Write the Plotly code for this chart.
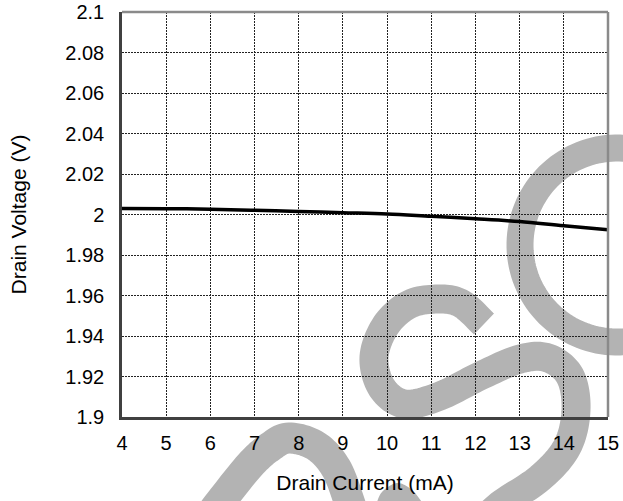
import plotly.graph_objects as go
import numpy as np

# ---- data ----
drain_current_mA = [4, 5, 6, 7, 8, 9, 10, 11, 12, 13, 14, 15]
drain_voltage_V = [2.0030, 2.0029, 2.0026, 2.0021, 2.0015, 2.0009, 2.0003,
                   1.9991, 1.9979, 1.9965, 1.9944, 1.9925]

x_ticks = [4, 5, 6, 7, 8, 9, 10, 11, 12, 13, 14, 15]
x_ticktext = ["4", "5", "6", "7", "8", "9", "10", "11", "12", "13", "14", "15"]
y_ticks = [1.9, 1.92, 1.94, 1.96, 1.98, 2.0, 2.02, 2.04, 2.06, 2.08, 2.1]
y_ticktext = ["1.9", "1.92", "1.94", "1.96", "1.98", "2", "2.02", "2.04", "2.06", "2.08", "2.1"]

x_title = "Drain Current (mA)"
y_title = "Drain Voltage (V)"

# ---- layout geometry (pixels) ----
W, H = 623, 501
L, R, T, B = 122, 15, 12, 84
PW, PH = W - L - R, H - T - B

def to_paper(px, py):
    return (px - L) / PW, (H - B - py) / PH

def catmull(points, n=12):
    pts = np.array(points, dtype=float)
    out = []
    for i in range(len(pts) - 1):
        p0 = pts[i - 1] if i > 0 else pts[i]
        p1, p2 = pts[i], pts[i + 1]
        p3 = pts[i + 2] if i + 2 < len(pts) else pts[i + 1]
        for t in np.linspace(0, 1, n, endpoint=False):
            t2, t3 = t * t, t * t * t
            q = 0.5 * ((2 * p1) + (-p0 + p2) * t + (2 * p0 - 5 * p1 + 4 * p2 - p3) * t2
                       + (-p0 + 3 * p1 - 3 * p2 + p3) * t3)
            out.append(q)
    out.append(pts[-1])
    return out

def path_from(pts, close=False):
    s = ""
    for i, (px, py) in enumerate(pts):
        x, y = to_paper(px, py)
        s += ("M" if i == 0 else "L") + f"{x:.5f},{y:.5f} "
    if close:
        s += "Z"
    return s

wm_color = "#b3b3b3"
shapes = []

# big C arc (upper right)
cx, cy, rr = 617, 245, 97
arc = [(cx + rr * np.cos(np.radians(a)), cy + rr * np.sin(np.radians(a)))
       for a in np.linspace(-78, -282, 80)]
shapes.append(dict(type="path", xref="paper", yref="paper", layer="below",
                   path=path_from(arc), line=dict(color=wm_color, width=27)))

# S curve (middle)
s_pts = [(484, 324), (462, 304), (440, 299), (410, 304), (386, 325), (374, 357),
         (382, 388), (405, 404), (440, 396), (480, 376), (520, 359), (548, 358),
         (570, 376), (576, 410), (567, 447), (540, 478), (500, 505), (480, 525)]
shapes.append(dict(type="path", xref="paper", yref="paper", layer="below",
                   path=path_from(catmull(s_pts)), line=dict(color=wm_color, width=29)))

# left arch
a_pts = [(203, 525), (221, 501), (250, 465), (270, 447), (289, 438), (316, 446),
         (336, 468), (349, 501), (356, 525)]
shapes.append(dict(type="path", xref="paper", yref="paper", layer="below",
                   path=path_from(catmull(a_pts)), line=dict(color=wm_color, width=31)))

# small bump at bottom
bump = [(376, 505), (382, 492), (397, 483), (412, 490), (424, 505), (424, 520), (376, 520)]
shapes.append(dict(type="path", xref="paper", yref="paper", layer="below",
                   path=path_from(catmull(bump[:5]) + bump[5:], close=True),
                   fillcolor=wm_color, line=dict(width=0)))

# frame: top and right grey, left and bottom dark
frame_grey = "#8a8a8a"
shapes.append(dict(type="line", xref="x domain", yref="y domain", x0=0, x1=1, y0=1, y1=1,
                   line=dict(color=frame_grey, width=2.5), layer="above"))
shapes.append(dict(type="line", xref="x domain", yref="y domain", x0=1, x1=1, y0=0, y1=1,
                   line=dict(color=frame_grey, width=2.5), layer="above"))

fig = go.Figure()
fig.add_trace(go.Scatter(x=drain_current_mA, y=drain_voltage_V, mode="lines",
                         line=dict(color="black", width=3.5, shape="spline"),
                         showlegend=False, hoverinfo="skip", cliponaxis=False))

font_family = "Liberation Sans, Arial, sans-serif"
fig.update_layout(
    width=W, height=H,
    margin=dict(l=L, r=R, t=T, b=B, autoexpand=False),
    paper_bgcolor="white", plot_bgcolor="white",
    shapes=shapes,
    font=dict(family=font_family, color="black"),
    xaxis=dict(range=[4, 15], tickvals=x_ticks, ticktext=x_ticktext,
               showgrid=True, gridcolor="#222222", gridwidth=1, griddash="2px,1px",
               showline=True, linecolor="#404040", linewidth=2.5,
               ticks="", ticklabelstandoff=6, tickfont=dict(size=20),
               zeroline=False, automargin=False,
               title=dict(text=x_title, font=dict(size=21), standoff=23)),
    yaxis=dict(range=[1.9, 2.1], tickvals=y_ticks, ticktext=y_ticktext,
               showgrid=True, gridcolor="#222222", gridwidth=1, griddash="2px,1px",
               showline=True, linecolor="#404040", linewidth=2.5,
               ticks="", ticklabelstandoff=11, tickfont=dict(size=20),
               zeroline=False, automargin=False,
               title=dict(text=y_title, font=dict(size=21), standoff=33)),
)

fig.write_html("out.html")
